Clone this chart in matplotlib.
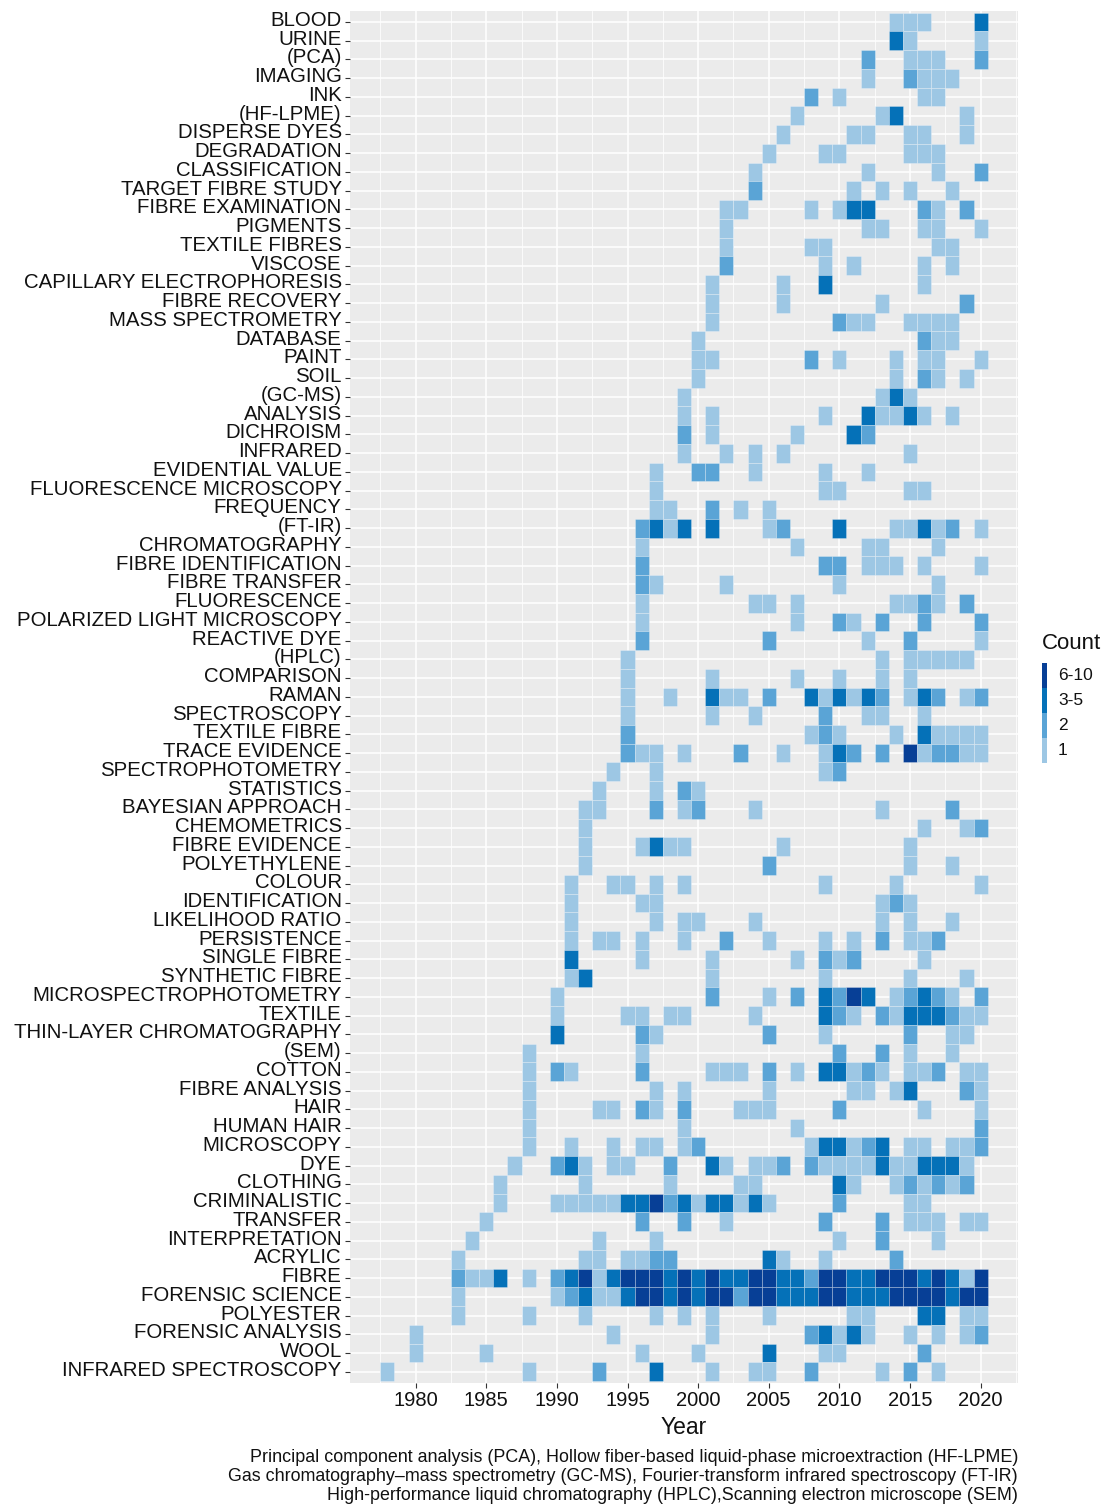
import matplotlib
matplotlib.use("Agg")
import matplotlib.pyplot as plt
from matplotlib.patches import Rectangle
from matplotlib.transforms import ScaledTranslation
import numpy as np

plt.rcParams['font.family'] = ['Liberation Sans', 'DejaVu Sans']

# ---------------- data ----------------
keywords = [
    "BLOOD", "URINE", "(PCA)", "IMAGING", "INK", "(HF-LPME)", "DISPERSE DYES",
    "DEGRADATION", "CLASSIFICATION", "TARGET FIBRE STUDY", "FIBRE EXAMINATION",
    "PIGMENTS", "TEXTILE FIBRES", "VISCOSE", "CAPILLARY ELECTROPHORESIS",
    "FIBRE RECOVERY", "MASS SPECTROMETRY", "DATABASE", "PAINT", "SOIL", "(GC-MS)",
    "ANALYSIS", "DICHROISM", "INFRARED", "EVIDENTIAL VALUE",
    "FLUORESCENCE MICROSCOPY", "FREQUENCY", "(FT-IR)", "CHROMATOGRAPHY",
    "FIBRE IDENTIFICATION", "FIBRE TRANSFER", "FLUORESCENCE",
    "POLARIZED LIGHT MICROSCOPY", "REACTIVE DYE", "(HPLC)", "COMPARISON", "RAMAN",
    "SPECTROSCOPY", "TEXTILE FIBRE", "TRACE EVIDENCE", "SPECTROPHOTOMETRY",
    "STATISTICS", "BAYESIAN APPROACH", "CHEMOMETRICS", "FIBRE EVIDENCE",
    "POLYETHYLENE", "COLOUR", "IDENTIFICATION", "LIKELIHOOD RATIO", "PERSISTENCE",
    "SINGLE FIBRE", "SYNTHETIC FIBRE", "MICROSPECTROPHOTOMETRY", "TEXTILE",
    "THIN-LAYER CHROMATOGRAPHY", "(SEM)", "COTTON", "FIBRE ANALYSIS", "HAIR",
    "HUMAN HAIR", "MICROSCOPY", "DYE", "CLOTHING", "CRIMINALISTIC", "TRANSFER",
    "INTERPRETATION", "ACRYLIC", "FIBRE", "FORENSIC SCIENCE", "POLYESTER",
    "FORENSIC ANALYSIS", "WOOL", "INFRARED SPECTROSCOPY",
]

# year:count-class per keyword (1 -> "1", 2 -> "2", 3 -> "3-5", 4 -> "6-10")
cells = [
    "2014:1 2015:1 2016:1 2020:3",
    "2014:3 2015:1 2020:1",
    "2012:2 2015:1 2016:1 2017:1 2020:2",
    "2012:1 2015:2 2016:1 2017:1 2018:1",
    "2008:2 2010:1 2016:1 2017:1",
    "2007:1 2013:1 2014:3 2019:1",
    "2006:1 2011:1 2012:1 2015:1 2016:1 2019:1",
    "2005:1 2009:1 2010:1 2015:1 2016:1 2017:1",
    "2004:1 2012:1 2017:1 2020:2",
    "2004:2 2011:1 2013:1 2015:1 2018:1",
    "2002:1 2003:1 2008:1 2010:1 2011:3 2012:3 2016:2 2017:1 2019:2",
    "2002:1 2012:1 2013:1 2016:1 2017:1 2020:1",
    "2002:1 2008:1 2009:1 2017:1 2018:1",
    "2002:2 2009:1 2011:1 2016:1 2018:1",
    "2001:1 2006:1 2009:3 2016:1",
    "2001:1 2006:1 2013:1 2019:2",
    "2001:1 2010:2 2011:1 2012:1 2015:1 2016:1 2017:1 2018:1",
    "2000:1 2016:2 2017:1 2018:1",
    "2000:1 2001:1 2008:2 2010:1 2014:1 2016:1 2017:1 2020:1",
    "2000:1 2014:1 2016:2 2017:1 2019:1",
    "1999:1 2013:1 2014:3 2015:1",
    "1999:1 2001:1 2009:1 2012:3 2013:1 2014:1 2015:3 2016:1 2018:1",
    "1999:2 2001:1 2007:1 2011:3 2012:2",
    "1999:1 2002:1 2004:1 2006:1 2015:1",
    "1997:1 2000:2 2001:2 2004:1 2009:1 2012:1",
    "1997:1 2009:1 2010:1 2015:1 2016:1",
    "1997:1 1998:1 2001:2 2003:1 2005:1",
    "1996:2 1997:3 1998:1 1999:3 2001:3 2005:1 2006:2 2010:3 2014:1 2015:1 2016:3 2017:1 2018:2 2020:1",
    "1996:1 2007:1 2012:1 2013:1 2017:1",
    "1996:2 2009:2 2010:2 2012:1 2013:1 2014:1 2016:1 2020:1",
    "1996:2 1997:1 2002:1 2010:1 2017:1",
    "1996:1 2004:1 2005:1 2007:1 2014:1 2015:1 2016:2 2017:1 2019:2",
    "1996:1 2007:1 2010:2 2011:1 2013:2 2016:2 2020:2",
    "1996:2 2005:2 2012:1 2015:2 2020:1",
    "1995:1 2013:1 2015:1 2016:1 2017:1 2018:1 2019:1",
    "1995:1 2001:1 2007:1 2010:1 2013:1 2015:1",
    "1995:1 1998:1 2001:3 2002:1 2003:1 2005:2 2008:3 2009:1 2010:3 2011:1 2012:3 2013:2 2015:1 2016:3 2017:2 2019:1 2020:2",
    "1995:1 2001:1 2004:1 2009:2 2012:1 2013:1 2016:1",
    "1995:2 2008:1 2009:2 2010:1 2014:1 2016:3 2017:1 2018:1 2019:1 2020:1",
    "1995:2 1996:1 1997:1 1999:1 2003:2 2006:1 2009:1 2010:3 2011:2 2013:2 2015:4 2016:1 2017:2 2018:2 2019:1 2020:1",
    "1994:1 1997:1 2009:1 2010:2",
    "1993:1 1997:1 1999:2 2000:1",
    "1992:1 1993:1 1997:2 1999:1 2000:2 2004:1 2013:1 2018:2",
    "1992:1 2016:1 2019:1 2020:2",
    "1992:1 1996:1 1997:3 1998:1 1999:1 2006:1 2015:1",
    "1992:1 2005:2 2015:1 2018:1",
    "1991:1 1994:1 1995:1 1997:1 1999:1 2009:1 2014:1 2020:1",
    "1991:1 1996:1 1997:1 2013:1 2014:2 2015:1",
    "1991:1 1997:1 1999:1 2000:1 2004:1 2013:1 2015:1 2018:1",
    "1991:1 1993:1 1994:1 1996:1 1999:1 2002:2 2005:1 2009:1 2011:1 2013:2 2015:1 2016:1 2017:2",
    "1991:3 1996:1 2001:1 2007:1 2009:2 2010:1 2011:2 2016:1",
    "1991:1 1992:3 2001:1 2009:1 2015:1 2019:1",
    "1990:1 2001:2 2005:1 2007:2 2009:3 2010:2 2011:4 2012:3 2014:1 2015:2 2016:3 2017:2 2018:1 2020:2",
    "1990:1 1995:1 1996:1 1998:1 1999:1 2004:1 2009:3 2010:2 2011:1 2013:2 2014:1 2015:3 2016:3 2017:3 2018:2 2019:1 2020:1",
    "1990:3 1996:2 1997:1 2005:2 2009:1 2015:2 2018:1 2019:1",
    "1988:1 1996:1 2010:2 2013:2 2015:1 2018:1",
    "1988:1 1990:2 1991:1 1996:2 2001:1 2002:1 2003:1 2005:2 2007:1 2009:3 2010:3 2011:1 2012:2 2013:1 2015:1 2016:1 2017:2 2019:1 2020:1",
    "1988:1 1997:1 1999:1 2005:1 2011:1 2012:1 2014:1 2015:3 2019:2 2020:1",
    "1988:1 1993:1 1994:1 1996:2 1997:1 1999:2 2003:1 2004:1 2005:1 2010:2 2016:1 2020:1",
    "1988:1 1999:1 2007:1 2020:2",
    "1988:1 1991:1 1994:1 1996:1 1997:1 1999:1 2000:2 2008:1 2009:3 2010:3 2011:1 2012:2 2013:3 2015:1 2016:1 2018:1 2019:1 2020:2",
    "1987:1 1990:2 1991:3 1992:1 1994:1 1995:1 1998:2 2001:3 2002:1 2004:1 2005:1 2006:2 2008:2 2009:1 2010:1 2011:1 2012:1 2013:3 2014:1 2015:1 2016:3 2017:3 2018:3 2019:1",
    "1986:1 1992:1 1998:1 2003:1 2004:1 2010:3 2011:1 2014:1 2015:2 2016:1 2017:2 2018:1 2019:2",
    "1986:1 1990:1 1991:1 1992:1 1993:1 1994:1 1995:3 1996:3 1997:4 1998:2 1999:3 2000:1 2001:3 2002:3 2003:1 2004:3 2005:1 2010:2 2015:1 2016:1",
    "1985:1 1996:2 1999:2 2002:1 2009:2 2013:2 2015:1 2016:1 2017:1 2019:1 2020:1",
    "1984:1 1993:1 1997:1 2010:1 2013:2 2017:1",
    "1983:1 1992:1 1993:1 1995:1 1996:1 1997:2 1998:2 2005:3 2006:1 2009:1 2014:2",
    "1983:2 1984:1 1985:1 1986:3 1988:1 1990:2 1991:3 1992:4 1993:1 1994:3 1995:4 1996:4 1997:4 1998:3 1999:4 2000:3 2001:4 2002:3 2003:3 2004:4 2005:4 2006:3 2007:3 2008:2 2009:4 2010:4 2011:3 2012:3 2013:4 2014:4 2015:4 2016:3 2017:4 2018:3 2019:1 2020:4",
    "1983:1 1990:1 1991:2 1992:3 1993:1 1994:1 1995:3 1996:4 1997:4 1998:3 1999:4 2000:3 2001:4 2002:4 2003:2 2004:4 2005:4 2006:3 2007:3 2008:3 2009:4 2010:4 2011:3 2012:3 2013:3 2014:4 2015:4 2016:4 2017:4 2018:3 2019:4 2020:4",
    "1983:1 1988:1 1992:1 1997:1 1999:1 2001:1 2005:1 2011:1 2012:1 2016:3 2017:3 2019:1 2020:1",
    "1980:1 1994:1 2001:1 2008:2 2009:3 2010:1 2011:3 2012:1 2015:1 2017:1 2019:1 2020:2",
    "1980:1 1985:1 1996:1 2000:1 2005:3 2009:1 2010:1 2016:2",
    "1978:1 1988:1 1993:2 1997:3 2001:1 2004:1 2005:1 2008:2 2013:1 2015:2 2017:1",
]

count_labels = ["1", "2", "3-5", "6-10"]
count_colors = ["#9dc7e4", "#5aa4d6", "#0571b8", "#073f96"]
year_ticks = [1980, 1985, 1990, 1995, 2000, 2005, 2010, 2015, 2020]
x_title = "Year"
legend_title = "Count"
caption_lines = [
    "Principal component analysis (PCA), Hollow fiber-based liquid-phase microextraction (HF-LPME)",
    "Gas chromatography\u2013mass spectrometry (GC-MS), Fourier-transform infrared spectroscopy (FT-IR)",
    "High-performance liquid chromatography (HPLC),Scanning electron microscope (SEM)",
]

# ---------------- figure ----------------
W, H = 1106, 1506
fig = plt.figure(figsize=(W / 100, H / 100), dpi=100)


def fx(px):
    return px / W


def fy(py):
    return 1 - py / H


P_LEFT, P_RIGHT, P_TOP, P_BOTTOM = 350, 1018, 10.75, 1383
ax = fig.add_axes([fx(P_LEFT), fy(P_BOTTOM), fx(P_RIGHT) - fx(P_LEFT), fy(P_TOP) - fy(P_BOTTOM)])
ax.set_facecolor("#EBEBEB")
n = len(keywords)
ax.set_xlim(1975.35, 2022.65)
ax.set_ylim(n - 1 + 0.6, -0.6)

# grid
for r in range(n):
    ax.axhline(r, color="white", lw=1.1, zorder=1)
for x in np.arange(1977.5, 2023, 5):
    ax.axvline(x, color="white", lw=0.55, zorder=1)
for x in year_ticks:
    ax.axvline(x, color="white", lw=1.1, zorder=1)

# cells
xs, ys, cs = [], [], []
for r, spec in enumerate(cells):
    for item in spec.split():
        yr, lv = item.split(":")
        xs.append(int(yr))
        ys.append(r)
        cs.append(count_colors[int(lv) - 1])
xs = np.array(xs)
ys = np.array(ys)
ax.bar(xs, np.ones(len(xs)), bottom=ys - 0.5, width=1.0, color=cs,
       edgecolor=(1, 1, 1, 0.45), linewidth=0.4, zorder=2)

for s in ax.spines.values():
    s.set_visible(False)

ax.set_yticks(range(n))
ax.set_yticklabels(keywords, fontsize=14.7, color="#111111")
ax.set_xticks(year_ticks)
ax.set_xticklabels([str(y) for y in year_ticks], fontsize=14.5, color="#111111")
ax.tick_params(axis="both", length=3.5, width=0.8, color="#333333", pad=2.5)
ax.set_xlabel(x_title, fontsize=16.5, color="#111111", labelpad=4)

shift = ScaledTranslation(0, 0.035, fig.dpi_scale_trans)
for lab in ax.get_yticklabels():
    lab.set_transform(lab.get_transform() + shift)

# legend
fig.text(fx(1042), fy(643), legend_title, fontsize=16, ha="left", va="center", color="#111111")
key_top = 663
key_h = 25
for i, (lab, col) in enumerate(zip(count_labels[::-1], count_colors[::-1])):
    y0 = key_top + i * key_h
    fig.add_artist(Rectangle((fx(1042), fy(y0 + key_h)), fx(1047) - fx(1042), (key_h) / H,
                             transform=fig.transFigure, facecolor=col, edgecolor="none"))
    fig.text(fx(1058), fy(y0 + key_h / 2), lab, fontsize=12.5, ha="left", va="center", color="#111111")

# caption
for i, line in enumerate(caption_lines):
    fig.text(fx(1018), fy(1457 + i * 19.5), line, fontsize=12.9, ha="right", va="center", color="#111111")

fig.savefig("out.png", dpi=100)
